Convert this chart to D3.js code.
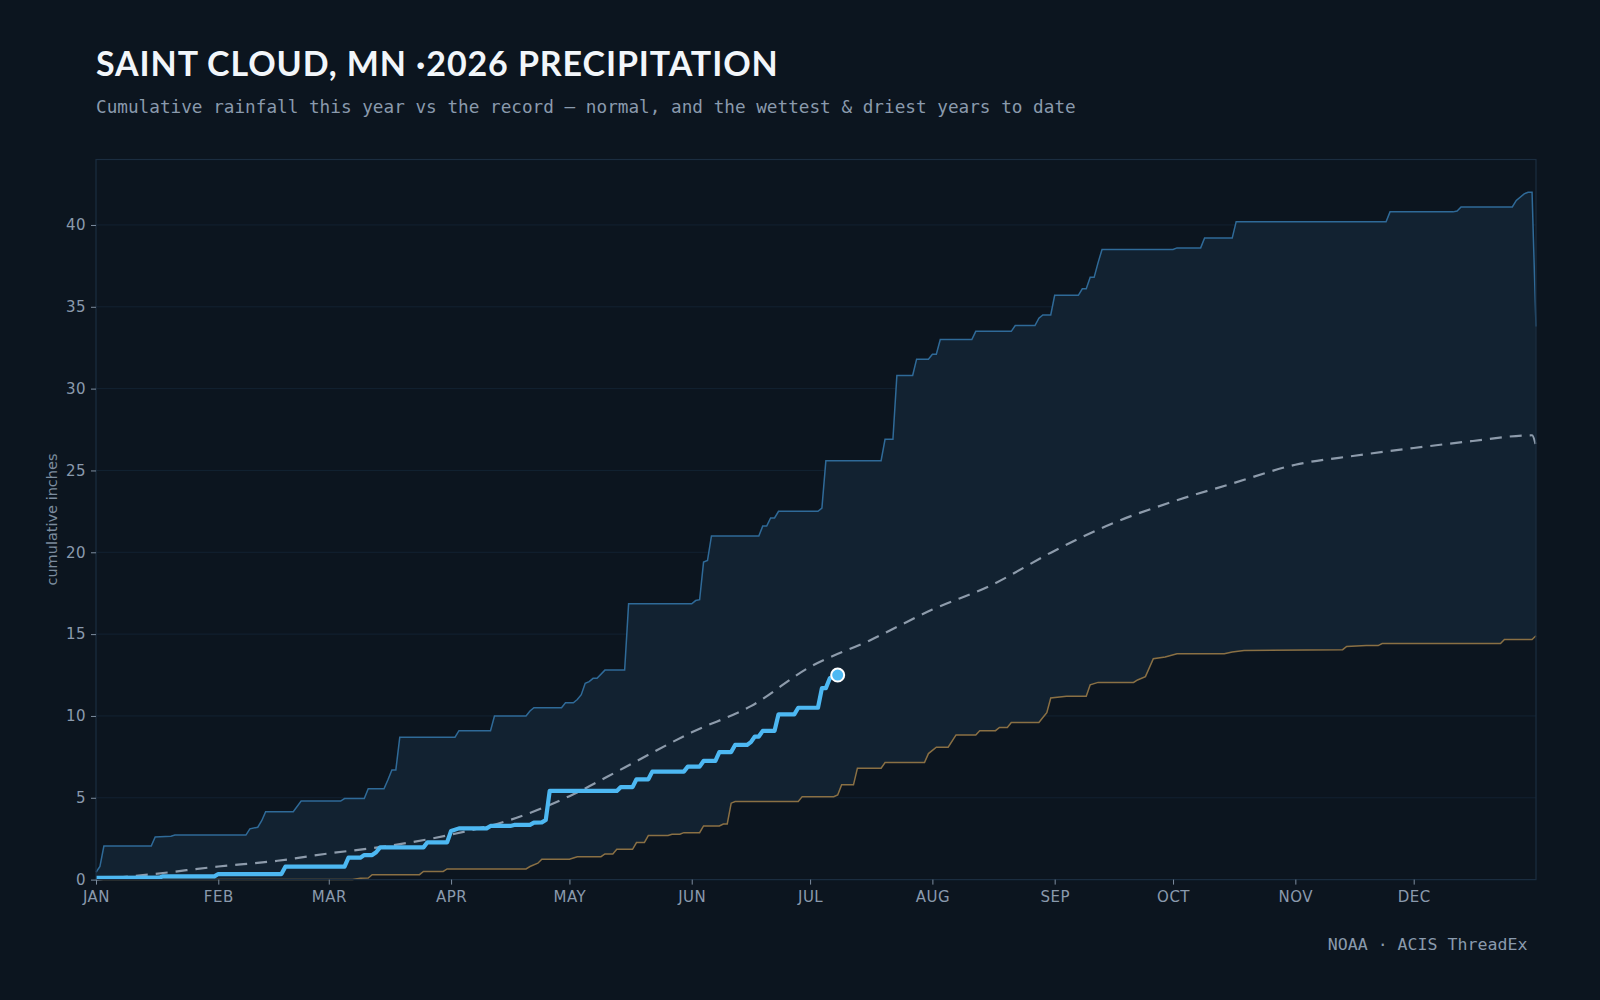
<!DOCTYPE html>
<html>
<head>
<meta charset="utf-8">
<script src="https://cdn.jsdelivr.net/npm/d3@7"></script>
<style>
  html, body { margin: 0; padding: 0; background: #0c151f; }
  svg { display: block; }
</style>
</head>
<body>
<script>
// day-of-year (0 = Jan 1) and cumulative inches
var wettest = [[0,0.45],[1,0.8],[2,2.05],[14,2.05],[15,2.6],[19,2.65],[20,2.72],[38,2.72],[39,3.1],[41,3.2],[42,3.6],[43,4.15],[50,4.15],[52,4.8],[62,4.8],[63,4.95],[68,4.95],[69,5.55],[73,5.55],[74,6.1],[75,6.7],[76,6.7],[77,8.7],[91,8.7],[92,9.1],[100,9.1],[101,10.0],[109,10.0],[110,10.3],[111,10.5],[118,10.5],[119,10.8],[121,10.8],[122,11.0],[123,11.3],[124,12.0],[125,12.1],[126,12.3],[127,12.3],[129,12.8],[134,12.8],[135,16.85],[151,16.85],[152,17.05],[153,17.1],[154,19.4],[155,19.5],[156,21.0],[168,21.0],[169,21.6],[170,21.6],[171,22.1],[172,22.1],[173,22.5],[183,22.5],[184,22.7],[185,25.6],[199,25.6],[200,26.9],[202,26.9],[203,30.8],[207,30.8],[208,31.8],[211,31.8],[212,32.1],[213,32.1],[214,33.0],[222,33.0],[223,33.5],[232,33.5],[233,33.85],[238,33.85],[239,34.3],[240,34.5],[242,34.5],[243,35.7],[249,35.7],[250,36.1],[251,36.1],[252,36.8],[253,36.8],[254,37.7],[255,38.5],[273,38.5],[274,38.6],[280,38.6],[281,39.2],[288,39.2],[289,40.2],[327,40.2],[328,40.8],[344,40.8],[345,40.85],[346,41.1],[359,41.1],[360,41.5],[362,41.9],[363,42.0],[364,42.0],[365,33.8]];

var driest = [[0,0],[65,0],[67,0.08],[69,0.1],[70,0.3],[82,0.3],[83,0.5],[88,0.5],[89,0.65],[109,0.65],[110,0.8],[112,1.0],[113,1.24],[120,1.24],[122,1.4],[128,1.4],[129,1.57],[131,1.57],[132,1.85],[136,1.85],[137,2.26],[139,2.26],[140,2.69],[145,2.69],[146,2.77],[148,2.77],[149,2.87],[153,2.87],[154,3.28],[158,3.28],[159,3.4],[160,3.4],[161,4.67],[162,4.77],[178,4.77],[179,5.07],[187,5.07],[188,5.17],[189,5.79],[192,5.79],[193,6.81],[199,6.81],[200,7.15],[210,7.15],[211,7.7],[213,8.09],[216,8.09],[218,8.84],[223,8.84],[224,9.1],[228,9.1],[229,9.3],[231,9.3],[232,9.6],[239,9.6],[240,9.9],[241,10.2],[242,11.1],[246,11.2],[251,11.2],[252,11.9],[254,12.05],[263,12.05],[264,12.2],[266,12.4],[268,13.5],[271,13.6],[274,13.8],[286,13.8],[288,13.9],[291,14.0],[316,14.05],[317,14.25],[322,14.3],[325,14.3],[326,14.42],[356,14.42],[357,14.67],[364,14.67],[365,14.9]];

var normal = [[0,0],[15,0.35],[31,0.8],[46,1.15],[59,1.6],[74,2.05],[90,2.75],[105,3.65],[120,5.1],[134,6.85],[151,9.0],[166,10.6],[181,13.0],[196,14.6],[212,16.5],[227,18.0],[243,20.1],[258,21.8],[273,23.1],[288,24.2],[304,25.35],[319,25.9],[334,26.37],[349,26.8],[364,27.15],[365,26.5]];

var thisYear = [[0,0.1],[16,0.12],[17,0.2],[30,0.2],[31,0.34],[47,0.34],[48,0.79],[63,0.79],[64,1.34],[67,1.34],[68,1.5],[70,1.5],[71,1.67],[72,1.97],[83,1.97],[84,2.28],[89,2.28],[90,2.97],[92,3.13],[99,3.13],[100,3.28],[105,3.28],[106,3.34],[110,3.34],[111,3.48],[113,3.5],[114,3.64],[115,5.42],[132,5.42],[133,5.65],[136,5.65],[137,6.13],[140,6.13],[141,6.6],[149,6.6],[150,6.9],[153,6.9],[154,7.25],[157,7.25],[158,7.79],[161,7.79],[162,8.23],[165,8.23],[166,8.4],[167,8.74],[168,8.74],[169,9.09],[172,9.09],[173,10.1],[177,10.1],[178,10.5],[183,10.5],[184,11.7],[185,11.7],[186,12.3],[188,12.5]];

var yTicks = [0, 5, 10, 15, 20, 25, 30, 35, 40];

var W = 1600, H = 1000;
var margin = {top: 159.5, right: 64, bottom: 120.4, left: 96};
var iw = W - margin.left - margin.right;
var ih = H - margin.top - margin.bottom;

function day(d) { return new Date(Date.UTC(2026, 0, 1 + d)); }

var svg = d3.select("body").append("svg")
    .attr("width", W)
    .attr("height", H);

svg.append("rect").attr("width", W).attr("height", H).attr("fill", "#0c151f");

// title + subtitle
svg.append("text")
    .attr("x", 96).attr("y", 75.5)
    .attr("fill", "#f2f6fa")
    .style("font-family", "Lato, 'Open Sans', sans-serif")
    .style("font-weight", 700)
    .style("font-size", "34px")
    .style("letter-spacing", "0.9px")
    .text("SAINT CLOUD, MN \u00b72026 PRECIPITATION");

svg.append("text")
    .attr("x", 96).attr("y", 112.5)
    .attr("fill", "#8a9aad")
    .style("font-family", "'DejaVu Sans Mono', monospace")
    .style("font-size", "17.7px")
    .text("Cumulative rainfall this year vs the record \u2014 normal, and the wettest & driest years to date");

var x = d3.scaleUtc()
    .domain([day(0), day(365)])
    .range([0, iw]);

var y = d3.scaleLinear()
    .domain([0, 44])
    .range([ih, 0]);

var g = svg.append("g").attr("transform", "translate(" + margin.left + "," + margin.top + ")");

// grid
g.selectAll(".grid").data(yTicks).enter().append("line")
    .attr("x1", 0).attr("x2", iw)
    .attr("y1", function(d) { return y(d); })
    .attr("y2", function(d) { return y(d); })
    .attr("stroke", "#132232")
    .attr("stroke-width", 1);

var line = d3.line()
    .x(function(d) { return x(day(d[0])); })
    .y(function(d) { return y(d[1]); });

// band between driest and wettest
g.append("path")
    .attr("d", line(wettest.concat(driest.slice().reverse())) + "Z")
    .attr("fill", "#122231");

g.append("path")
    .attr("d", line(wettest))
    .attr("fill", "none")
    .attr("stroke", "#2f6a98")
    .attr("stroke-width", 1.5);

g.append("path")
    .attr("d", line(driest))
    .attr("fill", "none")
    .attr("stroke", "#8a7044")
    .attr("stroke-width", 1.5);

var smooth = d3.line()
    .x(function(d) { return x(day(d[0])); })
    .y(function(d) { return y(d[1]); })
    .curve(d3.curveMonotoneX);

g.append("path")
    .attr("d", smooth(normal))
    .attr("fill", "none")
    .attr("stroke", "#8d9bab")
    .attr("stroke-width", 2.2)
    .attr("stroke-dasharray", "12,8");

g.append("path")
    .attr("d", line(thisYear))
    .attr("fill", "none")
    .attr("stroke", "#4db8f2")
    .attr("stroke-width", 4.2)
    .attr("stroke-linejoin", "round");

var last = thisYear[thisYear.length - 1];
g.append("circle")
    .attr("cx", x(day(last[0])))
    .attr("cy", y(last[1]))
    .attr("r", 6.5)
    .attr("fill", "#4db8f2")
    .attr("stroke", "#ffffff")
    .attr("stroke-width", 2);

// frame
g.append("rect")
    .attr("x", 0).attr("y", 0)
    .attr("width", iw).attr("height", ih)
    .attr("fill", "none")
    .attr("stroke", "#1b2d40")
    .attr("stroke-width", 1.2);

// axes
var xAxis = g.append("g")
    .attr("transform", "translate(0," + ih + ")")
    .call(d3.axisBottom(x)
        .ticks(d3.utcMonth.every(1))
        .tickSize(5)
        .tickFormat(function(d) { return d3.utcFormat("%b")(d).toUpperCase(); }));

var yAxis = g.append("g")
    .call(d3.axisLeft(y).tickValues(yTicks).tickSize(5).tickPadding(5));

[xAxis, yAxis].forEach(function(a) {
    a.select(".domain").remove();
    a.selectAll(".tick line").attr("stroke", "#7d8d9f");
    a.selectAll(".tick text")
        .attr("fill", "#8a9aad")
        .style("font-family", "'DejaVu Sans', sans-serif")
        .style("font-size", "15px")
        .style("letter-spacing", "0.5px");
});
xAxis.selectAll(".tick text").attr("y", 7).attr("dy", "1.0em");
// drop the Jan 1 of next year tick if present
xAxis.selectAll(".tick").filter(function(d) { return d.getUTCFullYear() > 2026; }).remove();

svg.append("text")
    .attr("transform", "translate(57," + (margin.top + ih / 2) + ") rotate(-90)")
    .attr("text-anchor", "middle")
    .attr("fill", "#7d8d9f")
    .style("font-family", "'DejaVu Sans', sans-serif")
    .style("font-size", "14.5px")
    .text("cumulative inches");

svg.append("text")
    .attr("x", 1527.5).attr("y", 950)
    .attr("text-anchor", "end")
    .attr("fill", "#8a9aad")
    .style("font-family", "'DejaVu Sans Mono', monospace")
    .style("font-size", "16.6px")
    .text("NOAA \u00b7 ACIS ThreadEx");
</script>
</body>
</html>
